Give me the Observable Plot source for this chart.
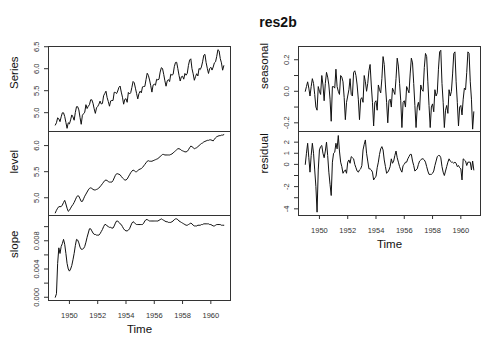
<!DOCTYPE html>
<html>
<head>
<meta charset="utf-8">
<script src="https://cdn.jsdelivr.net/npm/d3@7"></script>
<script src="https://cdn.jsdelivr.net/npm/@observablehq/plot@0.6"></script>
<style>
  html, body { margin: 0; padding: 0; background: #fff; }
  #wrap { position: relative; width: 500px; height: 357px; overflow: hidden; background: #fff;
          font-family: "Liberation Sans", Arial, Helvetica, sans-serif; }
  #wrap > svg { position: absolute; }
  #title { position: absolute; top: 13px; left: 278px; transform: translateX(-50%);
           font-weight: bold; font-size: 14px; line-height: 18px; color: #111; white-space: nowrap; }
</style>
</head>
<body>
<div id="wrap"><div id="title">res2b</div></div>
<script>
// ---- data (monthly, starting 1949, frequency 12) ----
const startYear = 1949;
const frequency = 12;
const chartTitle = "res2b";
const xLabel = "Time";
const panelNames = ["Series", "level", "slope", "seasonal", "residual"];
const xTickValues = [1950, 1952, 1954, 1956, 1958, 1960];

const series = [
4.718,4.771,4.883,4.860,4.796,4.905,4.997,4.997,4.913,4.779,4.644,4.771,
4.745,4.836,4.949,4.905,4.828,5.004,5.136,5.136,5.063,4.890,4.736,4.942,
4.977,5.011,5.182,5.094,5.147,5.182,5.293,5.293,5.215,5.088,4.984,5.112,
5.142,5.193,5.263,5.198,5.209,5.384,5.438,5.489,5.342,5.252,5.147,5.268,
5.278,5.278,5.464,5.460,5.434,5.493,5.576,5.606,5.468,5.352,5.193,5.303,
5.318,5.236,5.460,5.425,5.455,5.576,5.710,5.680,5.557,5.434,5.313,5.434,
5.489,5.451,5.587,5.595,5.598,5.753,5.897,5.849,5.743,5.613,5.468,5.628,
5.649,5.624,5.759,5.746,5.762,5.924,6.023,6.004,5.872,5.724,5.602,5.724,
5.753,5.707,5.875,5.852,5.872,6.045,6.142,6.146,6.001,5.849,5.720,5.817,
5.829,5.762,5.892,5.852,5.894,6.075,6.196,6.225,6.001,5.883,5.737,5.820,
5.886,5.835,6.006,5.981,6.040,6.157,6.306,6.326,6.138,6.009,5.892,6.004,
6.033,5.969,6.038,6.133,6.157,6.282,6.433,6.407,6.230,6.133,5.966,6.068];

const level = [
4.71,4.76,4.80,4.83,4.83,4.83,4.86,4.91,4.95,4.88,4.80,4.74,
4.76,4.80,4.84,4.87,4.91,4.96,5.01,5.04,5.03,4.98,4.93,4.93,
4.98,5.03,5.07,5.11,5.15,5.18,5.19,5.18,5.16,5.15,5.15,5.16,
5.17,5.19,5.21,5.24,5.27,5.30,5.33,5.34,5.33,5.31,5.30,5.30,
5.30,5.33,5.38,5.43,5.46,5.46,5.45,5.44,5.41,5.38,5.36,5.34,
5.34,5.36,5.40,5.44,5.48,5.51,5.53,5.52,5.50,5.50,5.52,5.54,
5.55,5.56,5.58,5.61,5.64,5.67,5.70,5.71,5.70,5.70,5.70,5.71,
5.72,5.73,5.74,5.75,5.77,5.79,5.81,5.83,5.83,5.82,5.82,5.82,
5.82,5.82,5.83,5.84,5.86,5.88,5.90,5.92,5.94,5.94,5.93,5.91,
5.90,5.89,5.88,5.88,5.89,5.92,5.96,5.99,5.98,5.96,5.94,5.95,
5.96,5.98,6.00,6.02,6.04,6.05,6.07,6.08,6.09,6.10,6.10,6.11,
6.11,6.10,6.09,6.12,6.15,6.17,6.18,6.19,6.19,6.20,6.20,6.21];

const slope = [
0.0000,0.0005,0.0048,0.0070,0.0062,0.0072,0.0076,0.0082,0.0075,0.0062,0.0048,0.0040,
0.0037,0.0040,0.0045,0.0053,0.0062,0.0073,0.0082,0.0081,0.0077,0.0071,0.0068,0.0068,
0.0069,0.0072,0.0078,0.0085,0.0091,0.0097,0.0097,0.0094,0.0091,0.0089,0.0089,0.0088,
0.0088,0.0088,0.0090,0.0093,0.0096,0.0100,0.0103,0.0103,0.0101,0.0100,0.0099,0.0099,
0.0098,0.0098,0.0101,0.0105,0.0108,0.0108,0.0106,0.0104,0.0103,0.0100,0.0097,0.0095,
0.0094,0.0094,0.0095,0.0097,0.0101,0.0105,0.0107,0.0106,0.0104,0.0103,0.0103,0.0103,
0.0103,0.0103,0.0103,0.0105,0.0108,0.0110,0.0110,0.0109,0.0108,0.0108,0.0108,0.0108,
0.0108,0.0108,0.0108,0.0108,0.0109,0.0110,0.0111,0.0110,0.0109,0.0108,0.0107,0.0107,
0.0106,0.0106,0.0106,0.0107,0.0108,0.0110,0.0111,0.0111,0.0110,0.0108,0.0107,0.0106,
0.0105,0.0104,0.0103,0.0102,0.0102,0.0103,0.0104,0.0105,0.0104,0.0102,0.0101,0.0101,
0.0101,0.0102,0.0102,0.0102,0.0103,0.0103,0.0104,0.0104,0.0104,0.0104,0.0104,0.0103,
0.0103,0.0102,0.0101,0.0101,0.0102,0.0103,0.0103,0.0103,0.0103,0.0102,0.0102,0.0102];

const seasonal = [
0.00,0.03,0.06,0.02,-0.03,0.03,0.08,0.05,-0.02,-0.10,-0.12,0.03,
0.00,-0.02,0.10,0.04,-0.06,0.05,0.12,0.09,0.04,-0.05,-0.19,0.03,
0.03,0.02,0.14,0.03,0.00,-0.02,0.10,0.09,0.06,-0.04,-0.18,-0.07,
-0.03,0.01,0.08,-0.02,-0.03,0.12,0.13,0.10,0.04,-0.05,-0.18,-0.05,
-0.04,-0.07,0.10,0.06,0.00,0.05,0.13,0.17,0.04,-0.07,-0.22,-0.07,
-0.06,-0.12,0.04,0.01,-0.01,0.08,0.22,0.17,0.04,-0.07,-0.20,-0.06,
-0.05,-0.10,0.02,0.00,-0.02,0.08,0.21,0.16,0.05,-0.06,-0.23,-0.07,
-0.06,-0.10,0.03,0.01,-0.01,0.11,0.21,0.18,0.05,-0.09,-0.23,-0.10,
-0.07,-0.12,0.04,0.01,0.00,0.15,0.24,0.22,0.06,-0.09,-0.23,-0.10,
-0.08,-0.13,0.01,-0.03,-0.01,0.14,0.25,0.26,0.05,-0.07,-0.23,-0.12,
-0.09,-0.14,0.01,-0.03,0.00,0.11,0.24,0.25,0.06,-0.07,-0.22,-0.10,
-0.09,-0.15,-0.05,0.02,0.01,0.12,0.25,0.24,0.06,-0.05,-0.24,-0.13];

const residual = [
0.0,1.0,1.9,0.6,-0.7,0.8,1.9,1.0,-0.5,-2.0,-4.3,-0.5,
1.3,1.6,1.7,1.0,0.6,1.2,2.0,0.8,-0.7,-1.8,-2.8,0.2,
1.0,1.1,1.9,1.4,2.6,1.2,0.2,-0.2,-0.8,-0.6,-0.5,-0.8,
0.2,0.4,0.1,0.7,0.6,0.5,0.0,-0.3,-0.6,-0.7,-0.5,-0.4,
-0.1,1.3,1.8,2.2,1.0,0.3,-0.4,-0.4,-0.5,-0.7,-1.4,-1.2,
-1.1,-0.3,0.2,0.9,1.4,1.6,1.3,0.4,-0.2,-0.8,-0.7,-0.5,
-0.2,0.5,0.1,0.3,0.8,1.2,0.6,0.2,-0.2,-0.5,-0.7,-0.1,
0.0,0.2,0.2,0.5,0.7,0.9,0.9,0.3,-0.1,-0.6,-0.5,-0.4,
0.0,0.3,0.4,0.5,0.5,0.4,0.2,-0.2,-0.6,-0.9,-0.9,-0.9,
-0.8,-0.6,-0.1,0.3,0.7,0.8,0.8,0.6,-0.2,-0.7,-1.0,-0.6,
-0.2,0.2,0.5,0.3,0.2,0.2,0.1,0.2,0.1,-0.2,-0.1,-0.3,
-0.4,-1.4,0.5,0.4,0.3,-0.1,0.2,0.2,0.2,-0.5,0.3,-0.5];

// y tick marks and labelled ticks per panel
const yTickMarks = {
  Series: [5.0, 5.5, 6.0, 6.5],
  level: [5.0, 5.5, 6.0],
  slope: [0, 0.002, 0.004, 0.006, 0.008, 0.010],
  seasonal: [-0.2, -0.1, 0.0, 0.1, 0.2],
  residual: [-4, -3, -2, -1, 0, 1, 2]
};
const yTickLabels = {
  Series: [5.0, 5.5, 6.0, 6.5],
  level: [5.0, 5.5, 6.0],
  slope: [0, 0.004, 0.008],
  seasonal: [-0.2, 0.0, 0.2],
  residual: [-4, -2, 0, 1, 2]
};
const yFormats = {
  Series: d => d.toFixed(1),
  level: d => d.toFixed(1),
  slope: d => d.toFixed(3),
  seasonal: d => d.toFixed(1),
  residual: d => String(d)
};

// ---- layout ----
const xDomain = [1948.52, 1961.39];
const time = series.map((_, i) => startYear + i / frequency);
const font = '"Liberation Sans", Arial, Helvetica, sans-serif';

function panel(name, values, yDomain, frameTop, frameH, colLeft, withX) {
  const data = values.map((v, i) => ({t: time[i], v}));
  const mt = 10, mb = withX ? 57 : 10;
  const marks = [
    Plot.axisY({ticks: yTickMarks[name], tickSize: 4, tickFormat: () => "", label: null}),
    Plot.axisY({ticks: yTickLabels[name], tickSize: 0, tickPadding: 10, tickRotate: -90,
                tickFormat: yFormats[name], fontSize: 7.5, fill: "#333", label: null}),
    Plot.text([name], {text: d => d, frameAnchor: "left", dx: -34, rotate: -90,
                       fontSize: 11.5, fill: "#111"}),
    Plot.lineY(data, {x: "t", y: "v", stroke: "#111", strokeWidth: 1}),
    Plot.frame({stroke: "#333", strokeWidth: 1})
  ];
  if (withX) {
    marks.push(
      Plot.axisX({ticks: xTickValues, tickSize: 4, tickPadding: 8, tickFormat: d => String(d),
                  fontSize: 7.5, fill: "#333", label: null}),
      Plot.text([xLabel], {text: d => d, frameAnchor: "bottom", dy: 32.5, fontSize: 11.5, fill: "#111"})
    );
  }
  const svg = Plot.plot({
    width: 240,
    height: frameH + mt + mb,
    marginLeft: 48, marginRight: 10, marginTop: mt, marginBottom: mb,
    style: {background: "transparent", overflow: "visible", fontFamily: font, color: "#333"},
    x: {domain: xDomain, axis: null},
    y: {domain: yDomain, axis: null},
    marks
  });
  svg.style.left = colLeft + "px";
  svg.style.top = (frameTop - mt) + "px";
  return svg;
}

const wrap = document.getElementById("wrap");
document.getElementById("title").textContent = chartTitle;
wrap.appendChild(panel("Series", series, [4.572, 6.505], 46, 85, 0, false));
wrap.appendChild(panel("level", level, [4.66, 6.27], 131, 84, 0, false));
wrap.appendChild(panel("slope", slope, [-0.00046, 0.01158], 215, 85, 0, true));
wrap.appendChild(panel("seasonal", seasonal, [-0.255, 0.284], 46, 85, 250, false));
wrap.appendChild(panel("residual", residual, [-4.6, 2.96], 131, 84, 250, true));
</script>
</body>
</html>
